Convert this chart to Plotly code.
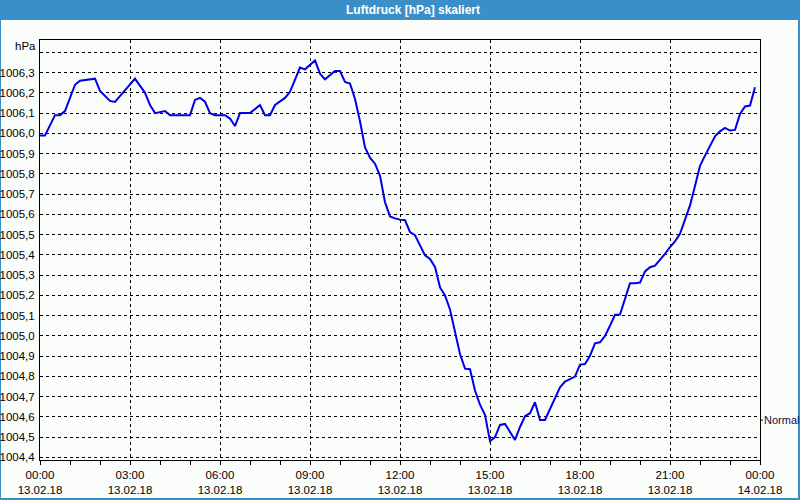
import plotly.graph_objects as go

# ---- data ----
times = ["00:00","00:10","00:30","00:40","00:50","01:10","01:20","01:40","01:50","02:00",
         "02:20","02:30","03:10","03:30","03:40","03:50","04:10","04:20","05:00","05:10",
         "05:20","05:30","05:40","05:50","06:10","06:20","06:30","06:40","07:00","07:20",
         "07:30","07:40","07:50","08:10","08:20","08:40","08:50","09:10","09:20","09:30",
         "09:50","10:00","10:10","10:20","10:30","10:40","10:50","11:00","11:10","11:20",
         "11:30","11:40","11:50","12:00","12:10","12:20","12:30","12:40","12:50","13:00",
         "13:10","13:20","13:30","13:40","13:50","14:00","14:10","14:20","14:30","14:40",
         "14:50","15:00","15:10","15:20","15:30","15:40","15:50","16:00","16:10","16:20",
         "16:30","16:40","16:50","17:00","17:10","17:20","17:30","17:40","17:50","18:00",
         "18:10","18:20","18:30","18:40","18:50","19:00","19:10","19:20","19:30","19:40",
         "19:50","20:00","20:10","20:20","20:30","20:40","20:50","21:00","21:10","21:20",
         "21:30","21:40","21:50","22:00","22:10","22:20","22:30","22:40","22:50","23:00",
         "23:10","23:20","23:30","23:40","23:50"]
pressure = [1005.99,1005.99,1006.09,1006.09,1006.11,1006.24,1006.26,1006.265,1006.27,1006.21,
            1006.16,1006.155,1006.27,1006.20,1006.14,1006.10,1006.11,1006.09,1006.09,1006.165,
            1006.175,1006.156,1006.10,1006.09,1006.09,1006.073,1006.036,1006.10,1006.10,1006.14,
            1006.09,1006.09,1006.14,1006.175,1006.205,1006.325,1006.316,1006.36,1006.295,1006.267,
            1006.308,1006.308,1006.254,1006.246,1006.17,1006.06,1005.93,1005.88,1005.85,1005.79,
            1005.66,1005.59,1005.58,1005.574,1005.571,1005.513,1005.497,1005.447,1005.398,1005.38,
            1005.34,1005.24,1005.20,1005.13,1005.02,1004.91,1004.838,1004.835,1004.73,1004.66,
            1004.61,1004.48,1004.50,1004.56,1004.565,1004.524,1004.486,1004.55,1004.603,1004.618,
            1004.672,1004.585,1004.585,1004.639,1004.693,1004.746,1004.774,1004.787,1004.799,1004.858,
            1004.861,1004.902,1004.963,1004.968,1005.0,1005.05,1005.104,1005.105,1005.18,1005.26,
            1005.26,1005.263,1005.318,1005.339,1005.347,1005.375,1005.405,1005.438,1005.467,1005.504,
            1005.57,1005.644,1005.74,1005.84,1005.89,1005.94,1005.985,1006.01,1006.027,1006.014,
            1006.017,1006.096,1006.133,1006.137,1006.228]

x_tick_vals = ["2018-02-13 00:00","2018-02-13 03:00","2018-02-13 06:00","2018-02-13 09:00",
               "2018-02-13 12:00","2018-02-13 15:00","2018-02-13 18:00","2018-02-13 21:00",
               "2018-02-14 00:00"]
x_tick_text = ["00:00<br>13.02.18","03:00<br>13.02.18","06:00<br>13.02.18","09:00<br>13.02.18",
               "12:00<br>13.02.18","15:00<br>13.02.18","18:00<br>13.02.18","21:00<br>13.02.18",
               "00:00<br>14.02.18"]
y_tick_vals = [1004.4,1004.5,1004.6,1004.7,1004.8,1004.9,1005.0,1005.1,1005.2,1005.3,
               1005.4,1005.5,1005.6,1005.7,1005.8,1005.9,1006.0,1006.1,1006.2,1006.3,1006.4]
y_tick_text = ["1004,4","1004,5","1004,6","1004,7","1004,8","1004,9","1005,0","1005,1","1005,2",
               "1005,3","1005,4","1005,5","1005,6","1005,7","1005,8","1005,9","1006,0","1006,1",
               "1006,2","1006,3",""]
title_text = "Luftdruck [hPa] skaliert"
unit_label = "hPa"
normal_label = "Normal"
normal_level = 1004.584

x = ["2018-02-13 " + t for t in times]

BG = "#fbfdfb"
BLUE = "#3b8fc8"
FONT = "Liberation Sans, Arial, sans-serif"

fig = go.Figure()
fig.add_trace(go.Scatter(x=x, y=pressure, mode="lines",
                         line=dict(color="#0000e8", width=2), showlegend=False,
                         hoverinfo="skip"))

# pixel -> paper helpers for layout decoration
def px(p):
    return (p - 40) / 720.0
def py(p):
    return (460 - p) / 420.0

shapes = [
    dict(type="rect", xref="paper", yref="paper", x0=px(0), x1=px(800), y0=py(20), y1=py(0),
         fillcolor=BLUE, line=dict(width=0), layer="below"),
    dict(type="rect", xref="paper", yref="paper", x0=px(0), x1=px(1), y0=py(500), y1=py(20),
         fillcolor=BLUE, line=dict(width=0), layer="below"),
    dict(type="rect", xref="paper", yref="paper", x0=px(798), x1=px(800), y0=py(500), y1=py(20),
         fillcolor=BLUE, line=dict(width=0), layer="below"),
    dict(type="rect", xref="paper", yref="paper", x0=px(0), x1=px(800), y0=py(500), y1=py(498),
         fillcolor=BLUE, line=dict(width=0), layer="below"),
    dict(type="line", xref="paper", yref="y", x0=1, x1=px(763), y0=normal_level, y1=normal_level,
         line=dict(color="black", width=1)),
]

annotations = [
    dict(text="<b>" + title_text + "</b>", xref="paper", yref="paper", x=px(413), y=py(10),
         showarrow=False, font=dict(family=FONT, size=12, color="white"),
         xanchor="center", yanchor="middle"),
    dict(text=unit_label, xref="paper", yref="y", x=0, y=1006.43, xanchor="right",
         yanchor="middle", xshift=-2, showarrow=False,
         font=dict(family=FONT, size=11.5, color="black")),
    dict(text=normal_label, xref="paper", yref="y", x=1, y=normal_level, xanchor="left",
         yanchor="middle", xshift=2, showarrow=False,
         font=dict(family=FONT, size=11, color="#101040")),
]

fig.update_layout(
    width=800, height=500,
    margin=dict(l=40, r=40, t=40, b=40, autoexpand=False),
    paper_bgcolor=BG, plot_bgcolor=BG,
    font=dict(family=FONT, size=11.5, color="black"),
    shapes=shapes, annotations=annotations,
    xaxis=dict(
        type="date", automargin=False,
        range=["2018-02-13 00:00", "2018-02-14 00:00"],
        tickmode="array", tickvals=x_tick_vals, ticktext=x_tick_text,
        tickfont=dict(size=11.5),
        ticks="outside", ticklen=4, tickcolor="black", tickwidth=1,
        minor=dict(dtick=3600000, tick0="2018-02-13 00:00", ticks="outside",
                   ticklen=4, tickcolor="black", showgrid=False),
        showgrid=True, gridcolor="black", gridwidth=1, griddash="3px,3px",
        showline=True, linecolor="black", linewidth=1, mirror=True,
        zeroline=False, fixedrange=True,
    ),
    yaxis=dict(
        automargin=False,
        range=[1004.387, 1006.461],
        tickmode="array", tickvals=y_tick_vals, ticktext=y_tick_text,
        tickfont=dict(size=11.5),
        ticks="", ticklabelstandoff=2,
        showgrid=True, gridcolor="black", gridwidth=1, griddash="3px,3px",
        showline=True, linecolor="black", linewidth=1, mirror=True,
        zeroline=False, fixedrange=True,
    ),
)

fig.write_html("out.html")
